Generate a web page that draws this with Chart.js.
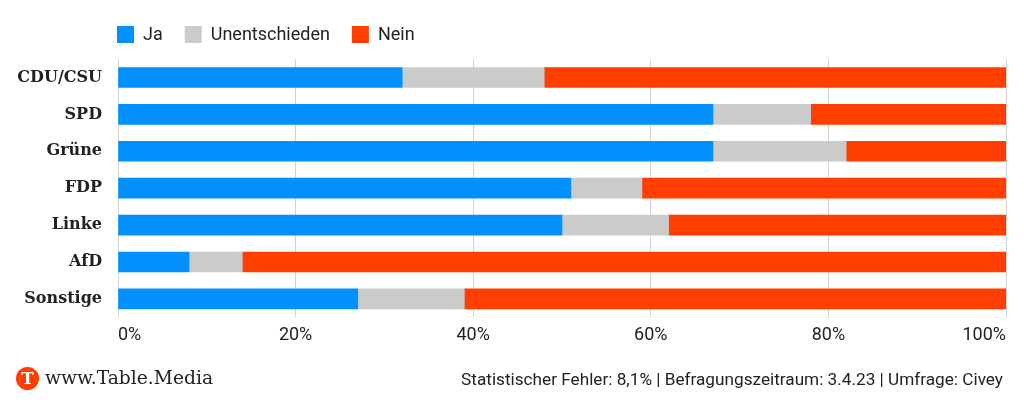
<!DOCTYPE html>
<html>
<head>
<meta charset="utf-8">
<script src="https://cdn.jsdelivr.net/npm/chart.js@4/dist/chart.umd.min.js"></script>
<style>
  html, body { margin: 0; padding: 0; background: #fff; }
  #wrap { position: relative; width: 1024px; height: 406px; overflow: hidden; }
  #chartBox { position: absolute; left: 0; top: 0; width: 1024px; height: 406px; }
  #logo { position: absolute; left: 16px; top: 367px; width: 23px; height: 23px; border-radius: 50%;
          background: #ff3e00; color: #fff; font: bold 17px "DejaVu Serif", serif; text-align: center; line-height: 23px; }
  #brand { position: absolute; left: 45px; top: 366px; font: 18.7px "DejaVu Serif", serif; color: #222; line-height: 24px; }
  #note { position: absolute; right: 21px; top: 369px; font: 17.2px Roboto, sans-serif; color: #222; line-height: 20px; }
</style>
</head>
<body>
<div id="wrap">
  <div id="chartBox"><canvas id="c"></canvas></div>
  <div id="logo">T</div>
  <div id="brand">www.Table.Media</div>
  <div id="note">Statistischer Fehler: 8,1% | Befragungszeitraum: 3.4.23 | Umfrage: Civey</div>
</div>
<script>
const categories = ["CDU/CSU", "SPD", "Grüne", "FDP", "Linke", "AfD", "Sonstige"];
const seriesNames = ["Ja", "Unentschieden", "Nein"];
const jaValues = [32, 67, 67, 51, 50, 8, 27];
const unentschiedenValues = [16, 11, 15, 8, 12, 6, 12];
const neinValues = [52, 22, 18, 41, 38, 86, 61];
const xTickValues = [0, 20, 40, 60, 80, 100];
const colors = ["#0091ff", "#cbcbcb", "#ff3e00"];

const legendPlugin = {
  id: 'customLegend',
  afterDraw(chart) {
    const ctx = chart.ctx;
    ctx.save();
    ctx.font = '18px Roboto';
    ctx.textBaseline = 'middle';
    ctx.textAlign = 'left';
    let x = chart.chartArea.left - 1;
    const y = 26;
    chart.data.datasets.forEach(ds => {
      ctx.fillStyle = ds.backgroundColor;
      ctx.fillRect(x, y, 17, 17);
      ctx.fillStyle = '#222';
      ctx.fillText(ds.label, x + 26, y + 9);
      x += 26 + ctx.measureText(ds.label).width + 22;
    });
    ctx.restore();
  }
};

const valueSets = [jaValues, unentschiedenValues, neinValues];
new Chart(document.getElementById('c'), {
  type: 'bar',
  data: {
    labels: categories,
    datasets: seriesNames.map((name, i) => ({
      label: name,
      data: valueSets[i],
      backgroundColor: colors[i],
      borderWidth: 0,
      barThickness: 20
    }))
  },
  options: {
    indexAxis: 'y',
    responsive: true,
    maintainAspectRatio: false,
    animation: false,
    layout: { padding: { top: 59, left: 0, right: 18, bottom: 53 } },
    plugins: { legend: { display: false }, tooltip: { enabled: false } },
    scales: {
      x: {
        stacked: true,
        min: 0, max: 100,
        afterBuildTicks(scale) { scale.ticks = xTickValues.map(v => ({ value: v })); },
        grid: { color: '#d4d4d4', lineWidth: 1, drawTicks: false },
        border: { display: false },
        ticks: {
          align: 'inner',
          padding: 7,
          color: '#222',
          font: { family: 'Roboto', size: 18 },
          callback: v => v + '%'
        }
      },
      y: {
        stacked: true,
        grid: { display: false, drawTicks: false },
        border: { display: false },
        afterFit(scale) { scale.width = 118; },
        ticks: {
          padding: 16,
          color: '#222',
          font: { family: 'DejaVu Serif', size: 16, weight: 'bold' }
        }
      }
    }
  },
  plugins: [legendPlugin]
});
</script>
</body>
</html>
